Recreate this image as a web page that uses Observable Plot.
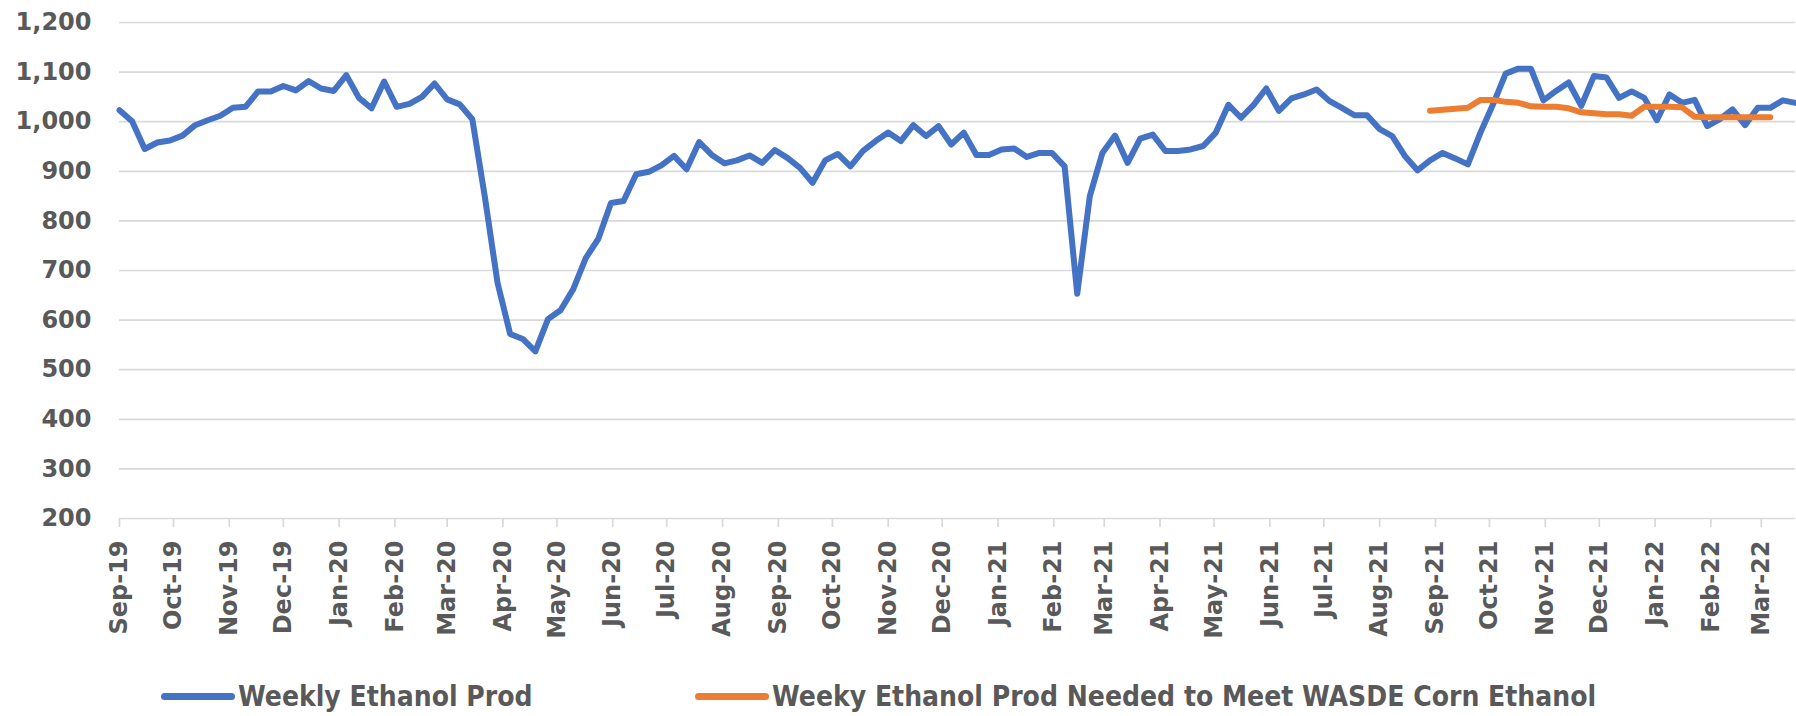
<!DOCTYPE html>
<html>
<head>
<meta charset="utf-8">
<script src="https://cdn.jsdelivr.net/npm/d3@7"></script>
<script src="https://cdn.jsdelivr.net/npm/@observablehq/plot@0.6"></script>
<style>
  html, body { margin: 0; padding: 0; background: #ffffff; }
  #wrap { position: relative; width: 1796px; height: 716px; overflow: hidden; }
  #legend { position: absolute; left: 0; top: 674px; width: 1796px; height: 44px; }
  .item { position: absolute; top: 0; height: 44px; display: flex; align-items: center; }
  .swatch { width: 74px; height: 7px; border-radius: 4px; margin-right: 3px; }
  .lbl { font-family: "Liberation Sans Narrow", "DejaVu Sans Condensed", sans-serif; font-weight: bold; font-size: 28px; color: #595959; white-space: nowrap; }
</style>
</head>
<body>
<div id="wrap">
  <div id="chart"></div>
  <div id="legend"></div>
</div>
<script>
// ---- data (thousand barrels per day, weekly) ----
const firstWeek = "2019-09-06";
const weeklyEthanolProd = [
  1023, 1001, 945, 958, 962, 972, 993, 1003, 1012, 1028,
  1030, 1061, 1061, 1072, 1063, 1082, 1067, 1062, 1094, 1048,
  1027, 1081, 1030, 1036, 1050, 1077, 1045, 1035, 1005, 847,
  675, 572, 562, 537, 602, 620, 662, 725, 764, 836,
  840, 894, 899, 912, 931, 904, 959, 933, 916, 922,
  932, 917, 943, 927, 907, 877, 922, 935, 910, 941,
  961, 978, 961, 993, 971, 991, 954, 978, 933, 933,
  944, 946, 929, 937, 937, 910, 653, 850, 937, 972,
  917, 966, 974, 941, 941, 944, 951, 978, 1034, 1008,
  1034, 1067, 1022, 1047, 1055, 1065, 1042, 1028, 1013, 1013,
  985, 971, 931, 902, 922, 937, 926, 914, 978, 1035,
  1097, 1107, 1107, 1043, 1062, 1079, 1032, 1092, 1089, 1048,
  1061, 1048, 1003, 1055, 1038, 1044, 991, 1005, 1025, 993,
  1028, 1028, 1043, 1038
];
const neededFirstWeek = "2021-09-03";
const neededProd = [
  1022, 1024, 1026, 1028, 1044, 1044, 1040, 1038, 1031, 1030,
  1030, 1027, 1019, 1017, 1015, 1015, 1012, 1030, 1030, 1030,
  1029, 1010, 1009, 1009, 1009, 1009, 1009, 1009
];
const xTickLabels = [
  "Sep-19", "Oct-19", "Nov-19", "Dec-19", "Jan-20", "Feb-20", "Mar-20", "Apr-20",
  "May-20", "Jun-20", "Jul-20", "Aug-20", "Sep-20", "Oct-20", "Nov-20", "Dec-20",
  "Jan-21", "Feb-21", "Mar-21", "Apr-21", "May-21", "Jun-21", "Jul-21", "Aug-21",
  "Sep-21", "Oct-21", "Nov-21", "Dec-21", "Jan-22", "Feb-22", "Mar-22"
];
const yTicks = [200, 300, 400, 500, 600, 700, 800, 900, 1000, 1100, 1200];
const seriesNames = ["Weekly Ethanol Prod", "Weeky Ethanol Prod Needed to Meet WASDE Corn Ethanol"];
const seriesColors = ["#4472C4", "#ED7D31"];

// ---- build tables ----
const d0 = new Date(firstWeek + "T00:00:00Z");
const n0 = new Date(neededFirstWeek + "T00:00:00Z");
const blue = weeklyEthanolProd.map((v, i) => ({date: d3.utcDay.offset(d0, 7 * i), value: v}));
const orange = neededProd.map((v, i) => ({date: d3.utcDay.offset(n0, 7 * i), value: v}));
const tickDates = xTickLabels.map((l, i) => d3.utcMonth.offset(d0, i));
const labelOf = new Map(tickDates.map((d, i) => [+d, xTickLabels[i]]));

const chart = Plot.plot({
  width: 1796,
  height: 674,
  marginLeft: 119,
  marginRight: 1,
  marginTop: 22,
  marginBottom: 156,
  style: {fontFamily: "DejaVu Sans", background: "#ffffff", overflow: "visible"},
  x: {type: "utc", domain: [d0, blue[blue.length - 1].date]},
  y: {domain: [200, 1200]},
  marks: [
    Plot.gridY(yTicks, {stroke: "#D9D9D9", strokeOpacity: 1, strokeWidth: 1.7}),
    Plot.axisY(yTicks, {
      tickSize: 0, tickPadding: 28, label: null,
      tickFormat: d3.format(","),
      fill: "#595959", fontSize: 24, fontWeight: "bold"
    }),
    Plot.axisX(tickDates, {
      tickSize: 9, stroke: "#D9D9D9", strokeWidth: 1.7, strokeOpacity: 1,
      tickRotate: -90, tickPadding: 13, label: null,
      tickFormat: d => labelOf.get(+d),
      fill: "#595959", fontSize: 24, fontWeight: "bold"
    }),
    Plot.lineY(blue, {x: "date", y: "value", stroke: seriesColors[0], strokeWidth: 6, strokeLinejoin: "round", strokeLinecap: "round"}),
    Plot.lineY(orange, {x: "date", y: "value", stroke: seriesColors[1], strokeWidth: 6, strokeLinejoin: "round", strokeLinecap: "round"})
  ]
});
document.getElementById("chart").appendChild(chart);

// ---- legend ----
const legendLeft = [161, 695];
const legend = document.getElementById("legend");
seriesNames.forEach((name, i) => {
  const item = document.createElement("div");
  item.className = "item";
  item.style.left = legendLeft[i] + "px";
  const sw = document.createElement("div");
  sw.className = "swatch";
  sw.style.background = seriesColors[i];
  const tx = document.createElement("span");
  tx.className = "lbl";
  tx.textContent = name;
  item.appendChild(sw);
  item.appendChild(tx);
  legend.appendChild(item);
});
</script>
</body>
</html>
